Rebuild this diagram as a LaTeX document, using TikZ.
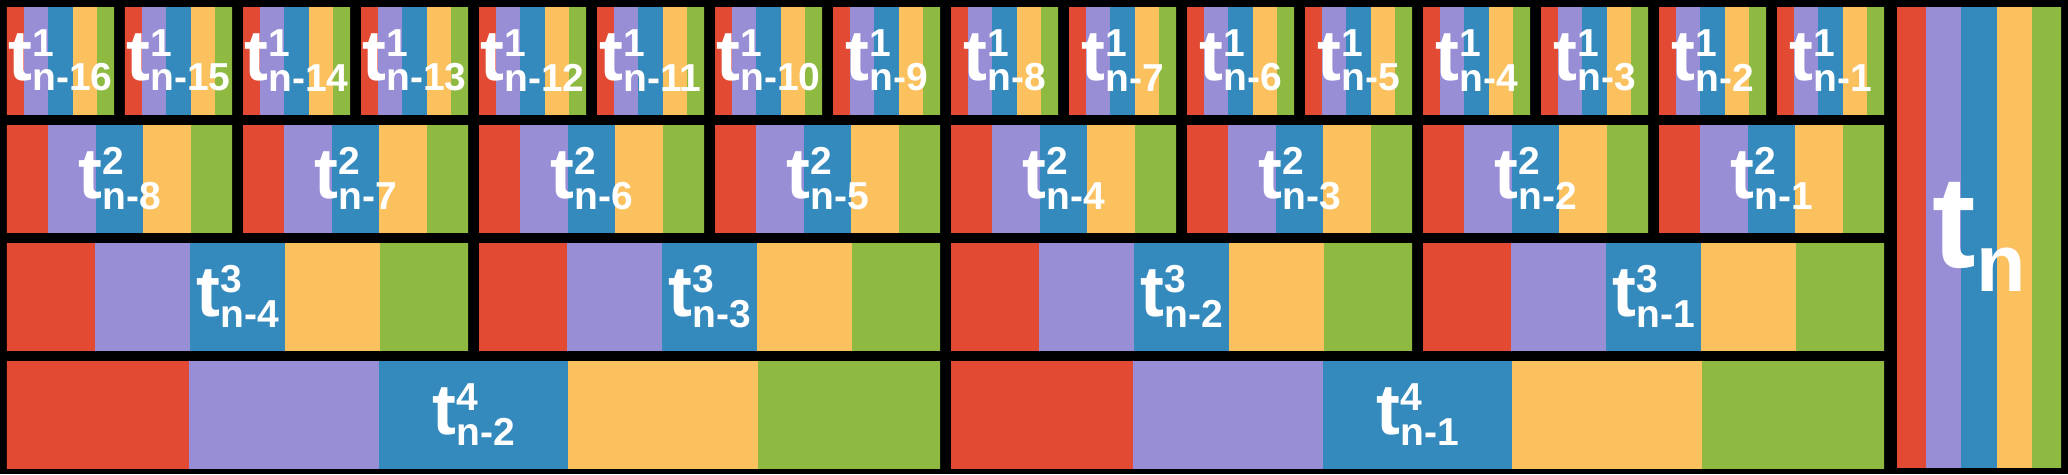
\documentclass[tikz,border=0pt]{standalone}
\usepackage{fontspec}
\setmainfont{Liberation Sans}
\definecolor{cred}{HTML}{E24A33}
\definecolor{cpurple}{HTML}{988ED5}
\definecolor{cblue}{HTML}{348ABD}
\definecolor{cyellow}{HTML}{FBC15E}
\definecolor{cgreen}{HTML}{8EBA42}
\newcommand\scr{\fontsize{9.4}{10}\selectfont}
\newcommand\tlab[2]{{\fontsize{17.3}{18}\selectfont t}\rlap{\raisebox{5.7pt}{\scr #1}}\raisebox{-2.6pt}{\scr #2}}
\begin{document}
\begin{tikzpicture}[lbl/.style={text=white, font=\bfseries, inner sep=0pt}]
\useasboundingbox(0,0) rectangle (17.5254,-4.0169);
\fill[black](0,0) rectangle (17.5254,-4.0169);
\foreach \lev/\spn in {1/1,2/2,3/4,4/8}
{
    \pgfmathtruncatemacro\cnt{16/\spn}
    \foreach \i in {1,...,\cnt}
    {
        \pgfmathsetmacro\xa{(\i-1)*\spn}
        \pgfmathsetmacro\ya{1-\lev}
        \pgfmathsetmacro\sw{(\spn+0.0254)/5}
        \pgfmathtruncatemacro\back{\cnt-\i+1}
        \begin{scope}
            \clip(\xa+0.0593,\ya-0.0593) rectangle (\xa+\spn-0.0339,\ya-0.9661);
            \foreach \c [count=\j from 0] in {cred,cpurple,cblue,cyellow,cgreen}
                \fill[\c](\xa+\j*\sw,\ya) rectangle (\xa+\j*\sw+\sw,\ya-1);
        \end{scope}
        \node[lbl] (t\lev-\back) at (\xa+\spn/2+0.0127,\ya-0.5127){\tlab{\lev}{n-\back}};
    }
}
% last block
\begin{scope}
    \clip(16.076,-0.0593) rectangle (17.466,-3.9576);
    \foreach \c [count=\j from 0] in {cred,cpurple,cblue,cyellow,cgreen}
        \fill[\c](16.017+\j*0.3017,0) rectangle (16.3187+\j*0.3017,-4.0169);
\end{scope}
\node[lbl] (tn) at (16.771,-2.008){\fontsize{31.5}{32}\selectfont t\raisebox{-5.8pt}{\fontsize{19.5}{20}\selectfont n}};
\end{tikzpicture}
\end{document}
